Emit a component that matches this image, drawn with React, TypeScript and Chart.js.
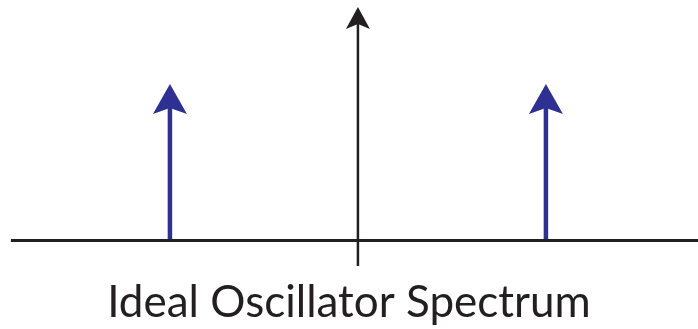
import React, { useEffect, useRef } from "react";
import { Chart, registerables } from "chart.js";

Chart.register(...registerables);

// ---- data ----
const titleText = "Ideal Oscillator Spectrum";
const impulseFrequencies = [-1, 1]; // normalized frequency offsets of the spectral lines
const impulseAmplitudes = [1, 1];
const freqAxisRange = [-1.846, 1.81]; // extent of horizontal (frequency) axis
const ampAxisRange = [-0.163, 1.492]; // extent of vertical (amplitude) axis

const BLACK = "#231f20";
const BLUE = "#2e3192";

type ArrowOpt = { w: number; len: number; notch: number };

const arrowPlugin = {
  id: "arrowHeads",
  beforeDatasetDraw(chart: any, args: any) {
    const ds: any = chart.data.datasets[args.index];
    const a: ArrowOpt | undefined = ds.arrow;
    if (!a) return;
    const meta = chart.getDatasetMeta(args.index);
    const tip = meta.data[meta.data.length - 1];
    const ctx = chart.ctx;
    ctx.save();
    ctx.beginPath();
    ctx.rect(0, tip.y + a.len - a.notch, chart.width, chart.height);
    ctx.clip();
  },
  afterDatasetDraw(chart: any, args: any) {
    const ds: any = chart.data.datasets[args.index];
    const a: ArrowOpt | undefined = ds.arrow;
    if (!a) return;
    const ctx = chart.ctx;
    ctx.restore();
    const meta = chart.getDatasetMeta(args.index);
    const tip = meta.data[meta.data.length - 1];
    const x = tip.x;
    const y = tip.y;
    ctx.save();
    ctx.fillStyle = ds.borderColor;
    ctx.beginPath();
    ctx.moveTo(x, y);
    ctx.lineTo(x + a.w / 2, y + a.len);
    ctx.lineTo(x, y + a.len - a.notch);
    ctx.lineTo(x - a.w / 2, y + a.len);
    ctx.closePath();
    ctx.fill();
    ctx.restore();
  },
};

export default function App() {
  const ref = useRef<HTMLCanvasElement>(null);
  useEffect(() => {
    if (!ref.current) return;
    const datasets: any[] = [
      {
        label: "frequency axis",
        data: [
          { x: freqAxisRange[0], y: 0 },
          { x: freqAxisRange[1], y: 0 },
        ],
        borderColor: BLACK,
        borderWidth: 3,
        borderCapStyle: "butt",
        pointRadius: 0,
        showLine: true,
      },
      {
        label: "amplitude axis",
        data: [
          { x: 0, y: ampAxisRange[0] },
          { x: 0, y: ampAxisRange[1] },
        ],
        borderColor: BLACK,
        borderWidth: 2.5,
        borderCapStyle: "butt",
        pointRadius: 0,
        showLine: true,
        arrow: { w: 24, len: 22, notch: 5 },
      },
      ...impulseFrequencies.map((f, i) => ({
        label: "impulse " + i,
        data: [
          { x: f, y: 0 },
          { x: f, y: impulseAmplitudes[i] },
        ],
        borderColor: BLUE,
        borderWidth: 4.5,
        borderCapStyle: "butt",
        pointRadius: 0,
        showLine: true,
        arrow: { w: 34, len: 30, notch: 6 },
      })),
    ];
    const chart = new Chart(ref.current, {
      type: "scatter",
      data: { datasets },
      options: {
        animation: false,
        responsive: false,
        layout: { padding: 0 },
        scales: {
          x: { type: "linear", display: false, min: -1.904, max: 1.809 },
          y: { type: "linear", display: false, min: -0.2282, max: 1.5367 },
        },
        plugins: {
          legend: { display: false },
          tooltip: { enabled: false },
          title: {
            display: true,
            text: titleText,
            position: "bottom",
            color: BLACK,
            font: { family: "Lato", size: 44, weight: "normal" },
            padding: { top: 0, bottom: 0 },
          },
        },
      },
      plugins: [arrowPlugin],
    });
    return () => chart.destroy();
  }, []);
  return (
    <div style={{ position: "fixed", left: 0, top: 0, width: 698, height: 329, background: "#fff" }}>
      <canvas ref={ref} width={698} height={329} style={{ display: "block" }} />
    </div>
  );
}
